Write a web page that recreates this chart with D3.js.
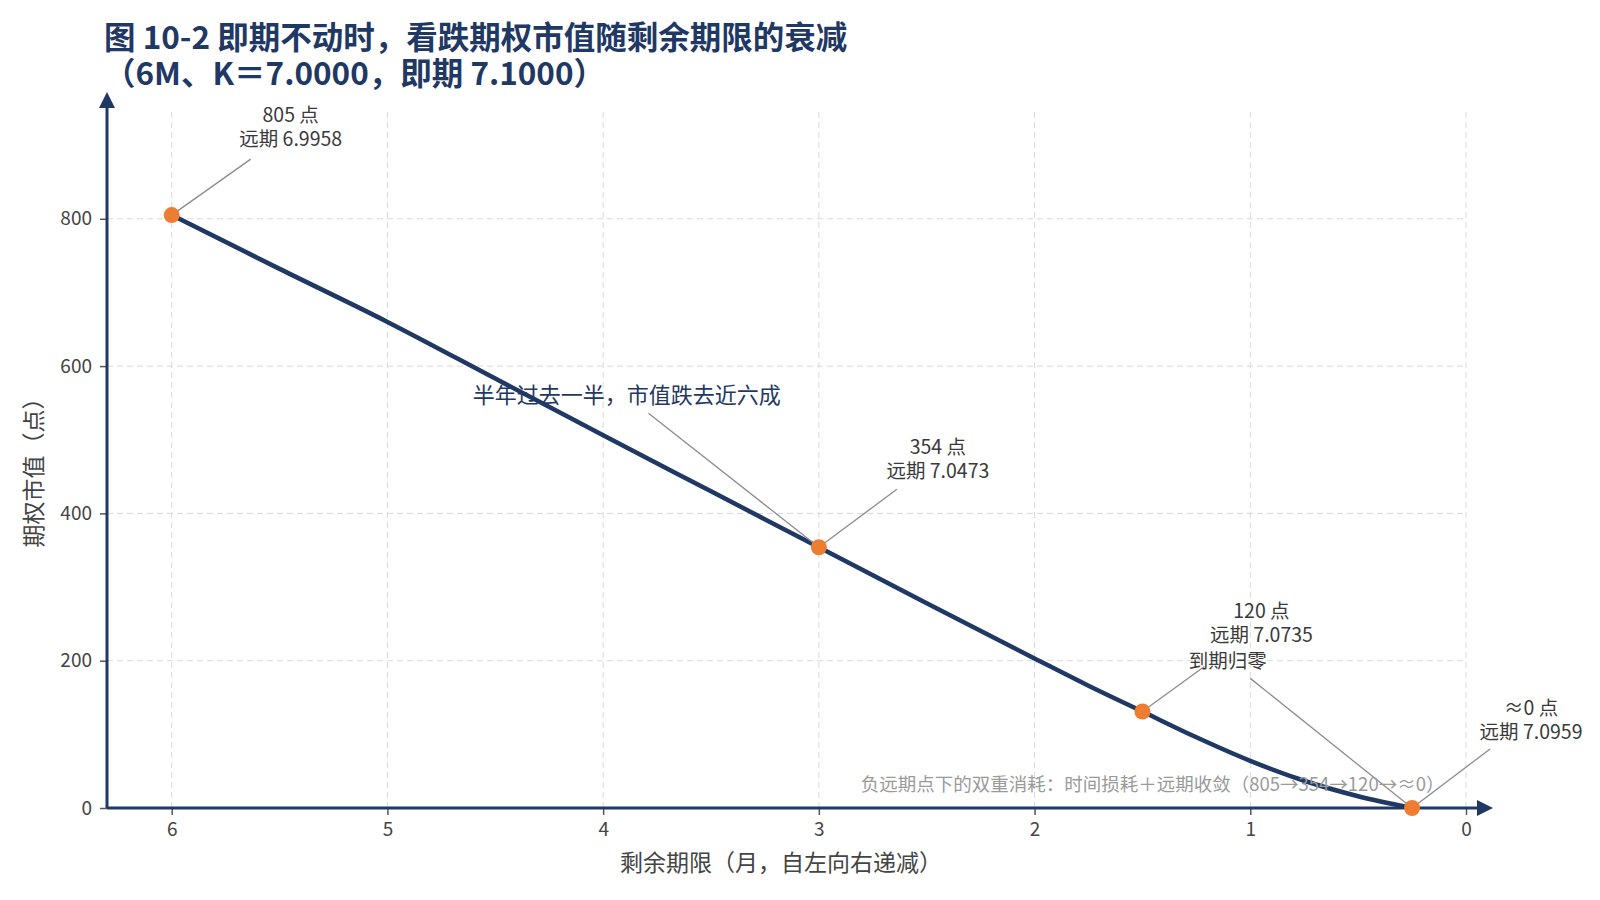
<!DOCTYPE html>
<html>
<head>
<meta charset="utf-8">
<script src="https://cdn.jsdelivr.net/npm/d3@7"></script>
<style>
  body { margin: 0; background: #fff; }
  text { font-family: "Noto Sans CJK SC", "Noto Sans", sans-serif; }
</style>
</head>
<body>
<div id="chart"></div>
<script>
// curve: remaining months -> put value (points)
const months = [6, 5.5, 5, 4.5, 4, 3.5, 3, 2.5, 2, 1.75, 1.5, 1.25, 1, 0.75, 0.5, 0.25];
const values = [805, 732, 660, 583, 506, 430, 354, 278, 203, 166, 131, 96, 64, 37, 16, 0];

// highlighted points
const keyMonths = [6, 3, 1.5, 0.25];
const keyValues = [805, 354, 131, 0];
const keyLabels = ['805 点', '354 点', '120 点', '≈0 点'];
const keyForwards = ['6.9958', '7.0473', '7.0735', '7.0959'];

const xTicks = [6, 5, 4, 3, 2, 1, 0];
const yTicks = [0, 200, 400, 600, 800];

const titleLines = ['图 10-2 即期不动时，看跌期权市值随剩余期限的衰减', '（6M、K＝7.0000，即期 7.1000）'];
const xLabel = '剩余期限（月，自左向右递减）';
const yLabel = '期权市值（点）';
const midNote = '半年过去一半，市值跌去近六成';
const endNote = '到期归零';
const footNote = '负远期点下的双重消耗：时间损耗＋远期收敛（805→354→120→≈0）';

const navy = '#1f3864';
const orange = '#ed7d31';

const width = 1600;
const height = 900;
const plot = { left: 107, right: 1466, top: 112, bottom: 808 };

const svg = d3.select('#chart')
  .append('svg')
  .attr('width', width)
  .attr('height', height);

const x = d3.scaleLinear().domain([6.3, 0]).range([plot.left, plot.right]);
const y = d3.scaleLinear().domain([0, 945]).range([plot.bottom, plot.top]);

// grid
svg.append('g')
  .selectAll('line')
  .data(xTicks)
  .join('line')
  .attr('x1', d => x(d)).attr('x2', d => x(d))
  .attr('y1', plot.top).attr('y2', plot.bottom)
  .attr('stroke', '#d9d9d9').attr('stroke-dasharray', '6,4');

svg.append('g')
  .selectAll('line')
  .data(yTicks.slice(1))
  .join('line')
  .attr('x1', plot.left).attr('x2', plot.right)
  .attr('y1', d => y(d)).attr('y2', d => y(d))
  .attr('stroke', '#d9d9d9').attr('stroke-dasharray', '6,4');

// axes (ticks + labels)
const xAxis = svg.append('g')
  .attr('transform', `translate(0,${plot.bottom})`)
  .call(d3.axisBottom(x).tickValues(xTicks).tickSize(7).tickPadding(8).tickFormat(d3.format('d')));
const yAxis = svg.append('g')
  .attr('transform', `translate(${plot.left},0)`)
  .call(d3.axisLeft(y).tickValues(yTicks).tickSize(7).tickPadding(8));

[xAxis, yAxis].forEach(g => {
  g.select('.domain').remove();
  g.selectAll('.tick line').attr('stroke', '#555').attr('stroke-width', 1.5);
  g.selectAll('.tick text')
    .attr('fill', '#444')
    .style('font-size', '19px')
    .style('font-family', '"Noto Sans CJK SC", sans-serif');
});

// axis lines with arrow heads
svg.append('line')
  .attr('x1', plot.left).attr('x2', plot.left)
  .attr('y1', plot.bottom).attr('y2', 106)
  .attr('stroke', navy).attr('stroke-width', 3);
svg.append('path')
  .attr('d', `M${plot.left - 8},108 L${plot.left},92 L${plot.left + 8},108 Z`)
  .attr('fill', navy);

svg.append('line')
  .attr('x1', plot.left).attr('x2', 1479)
  .attr('y1', plot.bottom).attr('y2', plot.bottom)
  .attr('stroke', navy).attr('stroke-width', 3);
svg.append('path')
  .attr('d', `M1477,${plot.bottom - 8} L1493,${plot.bottom} L1477,${plot.bottom + 8} Z`)
  .attr('fill', navy);

// curve
const line = d3.line()
  .x((d, i) => x(months[i]))
  .y(d => y(d))
  .curve(d3.curveMonotoneX);

svg.append('path')
  .datum(values)
  .attr('d', line)
  .attr('fill', 'none')
  .attr('stroke', navy)
  .attr('stroke-width', 4.5)
  .attr('stroke-linejoin', 'round');

// point labels with leader lines (offsets in px from each dot)
const labelOffset = { dx: 119, dy: -100 };
const leaderEnds = [[79, -56], [78, -58], [62, -45], [78, -59]];

keyMonths.forEach((m, i) => {
  const px = x(m);
  const py = y(keyValues[i]);
  svg.append('line')
    .attr('x1', px).attr('y1', py)
    .attr('x2', px + leaderEnds[i][0]).attr('y2', py + leaderEnds[i][1])
    .attr('stroke', '#8c8c8c').attr('stroke-width', 1.3);
  const t = svg.append('text')
    .attr('text-anchor', 'middle')
    .attr('fill', '#3a3a3a')
    .style('font-size', '19.5px');
  t.append('tspan')
    .attr('x', px + labelOffset.dx).attr('y', py + labelOffset.dy)
    .attr('dy', '0.35em')
    .text(keyLabels[i]);
  t.append('tspan')
    .attr('x', px + labelOffset.dx).attr('y', py + labelOffset.dy + 24)
    .attr('dy', '0.35em')
    .text('远期 ' + keyForwards[i]);
});

// half-way note
const midDot = [x(keyMonths[1]), y(keyValues[1])];
svg.append('line')
  .attr('x1', x(3.79)).attr('y1', y(536))
  .attr('x2', midDot[0]).attr('y2', midDot[1])
  .attr('stroke', '#8c8c8c').attr('stroke-width', 1.3);
svg.append('text')
  .attr('x', x(3.89)).attr('y', y(561))
  .attr('dy', '0.35em')
  .attr('text-anchor', 'middle')
  .attr('fill', navy)
  .style('font-size', '22px')
  .text(midNote);

// expiry note
const endDot = [x(keyMonths[3]), y(keyValues[3])];
svg.append('line')
  .attr('x1', x(1.0)).attr('y1', y(176))
  .attr('x2', endDot[0]).attr('y2', endDot[1])
  .attr('stroke', '#8c8c8c').attr('stroke-width', 1.3);
svg.append('text')
  .attr('x', x(1.105)).attr('y', y(200))
  .attr('dy', '0.35em')
  .attr('text-anchor', 'middle')
  .attr('fill', '#3a3a3a')
  .style('font-size', '19.5px')
  .text(endNote);

// dots
svg.append('g')
  .selectAll('circle')
  .data(keyValues)
  .join('circle')
  .attr('cx', (d, i) => x(keyMonths[i]))
  .attr('cy', d => y(d))
  .attr('r', 8)
  .attr('fill', orange);

// footnote
svg.append('text')
  .attr('x', x(0.1)).attr('y', y(32))
  .attr('dy', '0.35em')
  .attr('text-anchor', 'end')
  .attr('fill', '#9a9a9a')
  .style('font-size', '18.5px')
  .text(footNote);

// axis titles
svg.append('text')
  .attr('x', 781).attr('y', 863)
  .attr('dy', '0.35em')
  .attr('text-anchor', 'middle')
  .attr('fill', '#444')
  .style('font-size', '23px')
  .text(xLabel);

svg.append('text')
  .attr('transform', 'translate(34,467) rotate(-90)')
  .attr('dy', '0.35em')
  .attr('text-anchor', 'middle')
  .attr('fill', '#444')
  .style('font-size', '23px')
  .text(yLabel);

// title
svg.append('g')
  .selectAll('text')
  .data(titleLines)
  .join('text')
  .attr('x', 104)
  .attr('y', (d, i) => 38 + i * 36)
  .attr('dy', '0.35em')
  .attr('fill', navy)
  .style('font-size', '31.5px')
  .style('font-weight', 'bold')
  .text(d => d);
</script>
</body>
</html>
